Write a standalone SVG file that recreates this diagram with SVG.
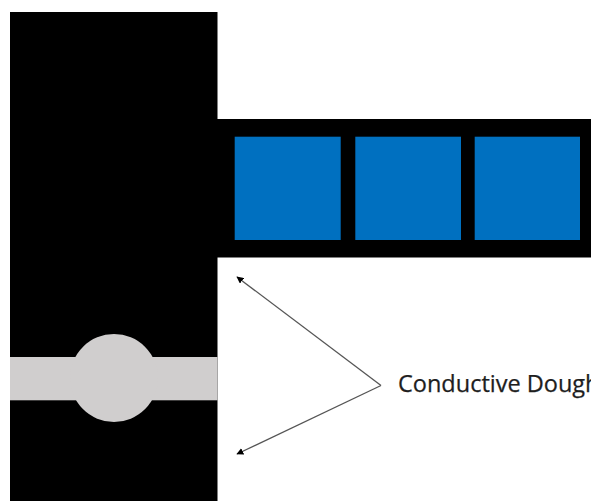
<svg xmlns="http://www.w3.org/2000/svg" width="591" height="501" viewBox="0 0 591 501">
  <style>
    .blk { fill: #000000; }
    .cell { fill: #0070C0; }
    .dough { fill: #D0CECE; }
    .conn { stroke: #555555; stroke-width: 1.3; fill: none; }
    .lbl { font-family: "Open Sans", "Liberation Sans", sans-serif; font-size: 23.5px; fill: #1e1e1e; stroke: #1e1e1e; stroke-width: 0.25; }
  </style>
  <defs>
    <marker id="arr" viewBox="0 0 10 10" refX="9" refY="5" markerWidth="7" markerHeight="7" markerUnits="userSpaceOnUse" orient="auto">
      <path d="M0,0 L10,5 L0,10 z" fill="#000000"/>
    </marker>
  </defs>
  <rect width="591" height="501" fill="#ffffff"/>
  <g id="body">
    <rect class="blk" x="10" y="12" width="207.5" height="489"/>
    <rect class="blk" x="217" y="119" width="374" height="138.5"/>
  </g>
  <g id="cells">
    <rect class="cell" x="234.7" y="136.7" width="106" height="103.3"/>
    <rect class="cell" x="355.3" y="136.7" width="105.7" height="103.3"/>
    <rect class="cell" x="474.7" y="136.7" width="105.3" height="103.3"/>
  </g>
  <g id="dough">
    <rect class="dough" x="10" y="357" width="207.5" height="43.3"/>
    <circle class="dough" cx="114" cy="378" r="44"/>
  </g>
  <g id="connectors">
    <line class="conn" x1="381" y1="385.5" x2="237" y2="277" marker-end="url(#arr)"/>
    <line class="conn" x1="381" y1="385.5" x2="237" y2="454" marker-end="url(#arr)"/>
  </g>
  <g id="label">
    <text class="lbl" x="398" y="392.3">Conductive Dough</text>
  </g>
</svg>
